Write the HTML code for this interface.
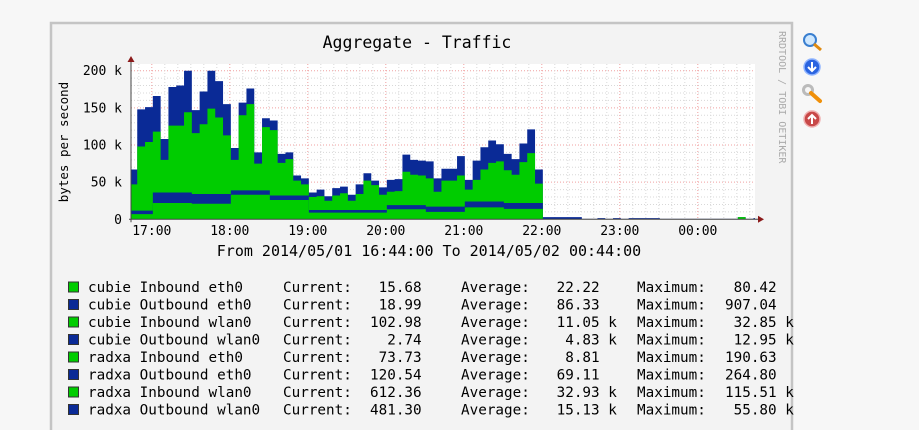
<!DOCTYPE html>
<html><head><meta charset="utf-8"><style>
html,body{margin:0;padding:0;background:#f7f7f7;width:919px;height:430px;overflow:hidden}
svg{display:block}
text{font-family:"DejaVu Sans Mono","Liberation Mono",monospace}
</style></head><body>
<svg id="chart" width="919" height="430">
  <rect x="51" y="23" width="741" height="410" fill="#f3f3f3" stroke="#c4c4c4" stroke-width="2.5"/>
  <text x="417" y="48" font-size="16.5" text-anchor="middle" fill="#000">Aggregate - Traffic</text>
  <text transform="translate(68,142) rotate(-90)" font-size="12.5" text-anchor="middle" fill="#000">bytes per second</text>
  <text transform="translate(779,31) rotate(90)" font-size="10" fill="#aaa">RRDTOOL / TOBI OETIKER</text>
  <text x="429" y="256" font-size="15" text-anchor="middle" fill="#000">From 2014/05/01 16:44:00 To 2014/05/02 00:44:00</text>
  <g id="plot"></g>
  <g id="legend"></g>
  <g><circle cx="810" cy="40" r="6" fill="#cfe8ff" stroke="#3a7fd0" stroke-width="2"/><line x1="814" y1="44" x2="821" y2="50" stroke="#e08a10" stroke-width="3"/></g>
  <g><circle cx="812" cy="67" r="8" fill="#2a64e0" stroke="#8fb4ff" stroke-width="1.5"/><path d="M812 62v8M808 67l4 4 4-4" stroke="#fff" stroke-width="2" fill="none"/></g>
  <g><circle cx="808" cy="90" r="4.5" fill="none" stroke="#bbb" stroke-width="3"/><line x1="811" y1="93" x2="820" y2="101" stroke="#f0900a" stroke-width="4" stroke-linecap="round"/></g>
  <g><circle cx="812" cy="119" r="8" fill="#c84848" stroke="#f0b0b0" stroke-width="1.5"/><path d="M812 124v-8M808 119l4-4 4 4" stroke="#fff" stroke-width="2" fill="none"/></g>
</svg>
<script>
// stacked tops (k bytes/s), 6-minute bins starting just before 16:44
const totalTop=[67,148,151,166,108,178,180,200,147,172,200,186,155,96,157,176,90,136,133,88,90,59,55,36,40,31,42,44,33,47,62,52,43,53,54,87,80,79,78,55,68,68,85,53,79,97,106,101,88,81,102,121,67,
 3,3,3,3,3,0.5,0.5,1.5,0.5,1.5,0.5,1.5,1.5,1.5,1.5,0.5,0.5,0.5,0.5,0.5,0.5,0.5,0.5,0.5,0.5,3,0.5,1.5];
const wlanInTop=[47,98,104,118,80,126,126,144,116,128,149,137,113,80,140,155,75,124,120,76,81,52,47,30,31,25,32,35,25,34,52,46,33,37,38,64,60,59,55,37,52,52,59,40,53,67,76,78,66,60,77,89,48,
 0.3,0.3,0.3,0.3,0.3,0.3,0.3,0.3,0.3,0.3,0.3,0.3,0.3,0.3,0.3,0.3,0.3,0.3,0.3,0.3,0.3,0.3,0.3,0.3,0.3,3,0.3,0.3];
const ethOutTop=[11.6,11.6,11.6,36,36,36,36,36,34,34,34,34,34,39,39,39,39,39,32,32,32,32,32,12.5,12.5,12.5,12.5,12.5,12.5,12.5,12.5,12.5,12.5,19,19,19,19,19,17,17,17,17,17,24,24,24,24,24,22,22,22,22,22,
 0.3,0.3,0.3,0.3,0.3,0.3,0.3,0.3,0.3,0.3,0.3,0.3,0.3,0.3,0.3,0.3,0.3,0.3,0.3,0.3,0.3,0.3,0.3,0.3,0.3,0.3,0.3,0.3];
const ethInTop=[7,7,7,22,22,22,22,22,21,21,21,21,21,33,33,33,33,33,26,26,26,26,26,9,9,9,9,9,9,9,9,9,9,13.5,13.5,13.5,13.5,13.5,10,10,10,10,10,16,16,16,16,16,14,14,14,14,14,
 0.2,0.2,0.2,0.2,0.2,0.2,0.2,0.2,0.2,0.2,0.2,0.2,0.2,0.2,0.2,0.2,0.2,0.2,0.2,0.2,0.2,0.2,0.2,0.2,0.2,0.2,0.2,0.2];
const yTicks=[0,50,100,150,200];
const yTickLabels=["0","50 k","100 k","150 k","200 k"];
const xTickLabels=["17:00","18:00","19:00","20:00","21:00","22:00","23:00","00:00"];
const legendNames=["cubie Inbound eth0","cubie Outbound eth0","cubie Inbound wlan0","cubie Outbound wlan0","radxa Inbound eth0","radxa Outbound eth0","radxa Inbound wlan0","radxa Outbound wlan0"];
const legendCurrent=[" 15.68"," 18.99","102.98","  2.74"," 73.73","120.54","612.36","481.30"];
const legendAverage=[" 22.22"," 86.33"," 11.05 k","  4.83 k","  8.81"," 69.11"," 32.93 k"," 15.13 k"];
const legendMaximum=[" 80.42","907.04"," 32.85 k"," 12.95 k","190.63","264.80","115.51 k"," 55.80 k"];

const NS="http://www.w3.org/2000/svg";
const X0=131,X1=755,Y0=219.3,YT=64,KPX=0.743,MIN0=0,MINSPAN=480,BIN=6,BIN0=-1.2;
const xOfMin=m=>X0+(m-MIN0)/MINSPAN*(X1-X0);
const yOf=v=>Y0-v*KPX;
function mk(tag,attrs,parent){const e=document.createElementNS(NS,tag);for(const k in attrs)e.setAttribute(k,attrs[k]);parent.appendChild(e);return e;}
const plot=document.getElementById('plot');
mk('rect',{x:X0,y:YT,width:X1-X0,height:Y0-YT,fill:'#fff'},plot);
for(let v=10;v*KPX<Y0-YT;v+=10){const g=mk('line',{x1:X0,x2:X1,y1:yOf(v),y2:yOf(v),stroke:v%50===0?'#f0a0a0':'#d8d8d8','stroke-dasharray':'1,2','stroke-width':1},plot);}
for(let m=6;m<MINSPAN;m+=10){const x=xOfMin(m);const g=mk('line',{x1:x,x2:x,y1:YT,y2:Y0,stroke:(m+44)%60===0?'#f0a0a0':'#d8d8d8','stroke-dasharray':'1,2','stroke-width':1},plot);}
function area(arr,color,name){
  let d='M'+X0+','+Y0;
  arr.forEach((v,i)=>{const a=Math.max(X0,xOfMin(BIN0+i*BIN)),b=Math.min(X1,xOfMin(BIN0+(i+1)*BIN));d+=' L'+a+','+yOf(v)+' L'+b+','+yOf(v);});
  d+=' L'+Math.min(X1,xOfMin(BIN0+arr.length*BIN))+','+Y0+' Z';
  const p=mk('path',{d:d,fill:color},plot);
  
  
}
area(totalTop,'#0a2a96','outbound-wlan-area');
area(wlanInTop,'#00cc00','inbound-wlan-area');
area(ethOutTop,'#0a2a96','outbound-eth-area');
area(ethInTop,'#00cc00','inbound-eth-area');
mk('line',{x1:X0-2,x2:X1+3,y1:Y0,y2:Y0,stroke:'#444','stroke-width':1},plot);
mk('line',{x1:X0,x2:X0,y1:YT-2,y2:Y0+3,stroke:'#444','stroke-width':1},plot);
mk('path',{d:`M${X1+3},${Y0-3.5} L${X1+9},${Y0} L${X1+3},${Y0+3.5}Z`,fill:'#8b1a1a'},plot);
mk('path',{d:`M${X0-3.5},${YT-2} L${X0},${YT-8} L${X0+3.5},${YT-2}Z`,fill:'#8b1a1a'},plot);
yTicks.forEach((v,i)=>{const t=mk('text',{x:122,y:yOf(v)+4.5,'font-size':13,'text-anchor':'end',fill:'#000'},plot);t.textContent=yTickLabels[i];});
xTickLabels.forEach((s,i)=>{const x=xOfMin(16+60*i);const t=mk('text',{x:x,y:235,'font-size':13,'text-anchor':'middle',fill:'#000'},plot);t.textContent=s;});
const lg=document.getElementById('legend');
legendNames.forEach((n,i)=>{
  const cy=287+i*17.5;
  const sw=mk('rect',{x:68.5,y:cy-5,width:10,height:10,fill:i%2?'#0a2a96':'#00cc00',stroke:'#333','stroke-width':1},lg);
  
  
  const cols=[[88,n],[283,'Current:'],[370,legendCurrent[i]],[461,'Average:'],[548,legendAverage[i]],[637,'Maximum:'],[725,legendMaximum[i]]];
  cols.forEach(c=>{const t=mk('text',{x:c[0],y:cy+5,'font-size':14.3,fill:'#000'},lg);t.setAttribute('style','white-space:pre');t.textContent=c[1];});
});
</script>
</body></html>
